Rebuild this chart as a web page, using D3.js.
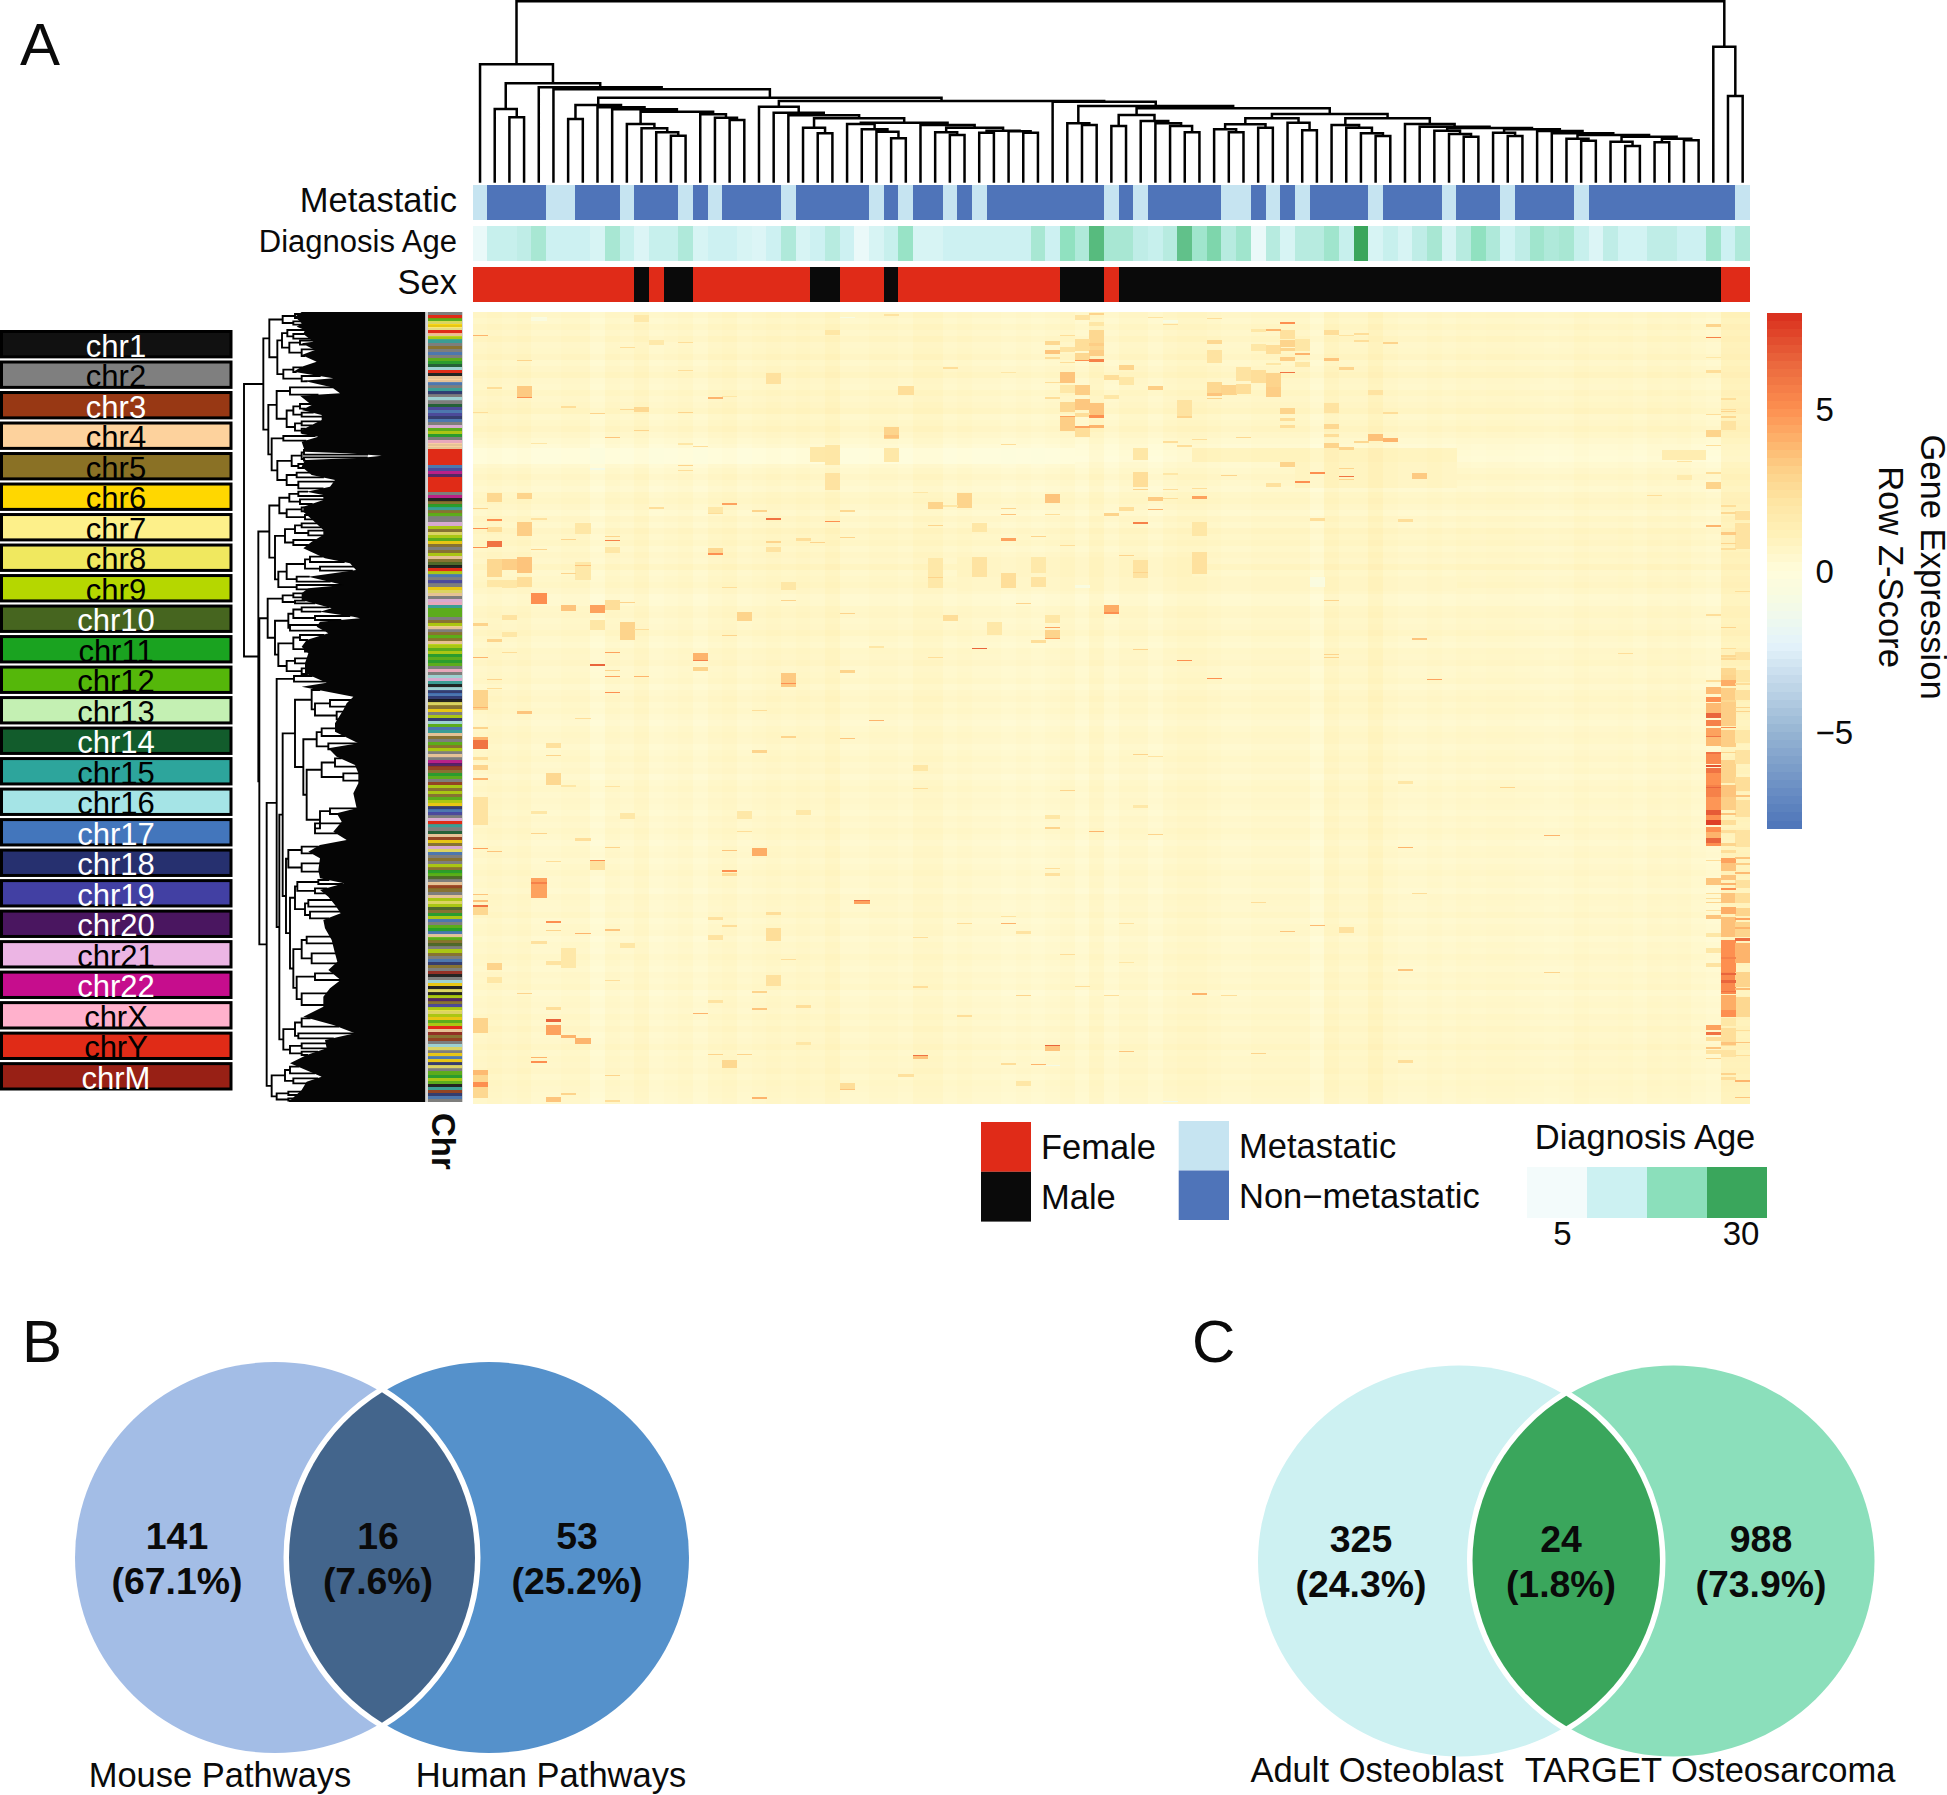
<!DOCTYPE html>
<html><head><meta charset="utf-8">
<script src="https://cdn.jsdelivr.net/npm/d3@7/dist/d3.min.js"></script>
<style>html,body{margin:0;padding:0;background:#fff}svg{display:block}text{font-family:"Liberation Sans",Arial,sans-serif;fill:#0a0a0a}</style>
</head><body><svg id="chart" width="1947" height="1795"></svg>
<script>
// ---------- data ----------
const metastatic=[1,0,0,0,0,1,1,0,0,0,1,0,0,0,1,0,1,0,0,0,0,1,0,0,0,0,0,1,0,1,0,0,1,0,1,0,0,0,0,0,0,0,0,1,0,1,0,0,0,0,0,1,1,0,1,0,1,0,0,0,0,1,0,0,0,0,1,0,0,0,1,0,0,0,0,1,0,0,0,0,0,0,0,0,0,0,1];
const sex=[1,1,1,1,1,1,1,1,1,1,1,0,1,0,0,1,1,1,1,1,1,1,1,0,0,1,1,1,0,1,1,1,1,1,1,1,1,1,1,1,0,0,0,1,0,0,0,0,0,0,0,0,0,0,0,0,0,0,0,0,0,0,0,0,0,0,0,0,0,0,0,0,0,0,0,0,0,0,0,0,0,0,0,0,0,1,1];
const diagnosisAge=[7,14,14,15,18,13,13,13,11,18,14,10,14,14,17,11,13,13,11,10,13,17,11,13,16,13,7,11,14,20,11,11,13,13,13,13,13,13,18,13,21,17,27,18,18,15,14,16,26,19,23,16,19,7,16,11,16,16,19,14,30,11,14,11,15,18,11,16,21,17,12,15,19,17,18,14,10,15,12,12,15,15,13,13,19,13,17];
const ageStops=[5,13.3,21.7,30];
const ageColors=["#f3fbfb","#ccf1f2","#8bdfbb","#3aa65c"];
const metColors=["#4f74b9","#c6e4f1"];
const sexColors=["#0a0a0a","#e02b18"];
const chrNames=["chr1","chr2","chr3","chr4","chr5","chr6","chr7","chr8","chr9","chr10","chr11","chr12","chr13","chr14","chr15","chr16","chr17","chr18","chr19","chr20","chr21","chr22","chrX","chrY","chrM"];
const chrColors=["#111111","#7f7f7f","#983814","#fdd29d","#8a7125","#ffd700","#fdf08a","#f0e85f","#b5d700","#46651f","#1aa320","#55b70a","#c4f0b3","#125c2c","#2da59c","#a5e4e6","#4376bc","#26306f","#4240a3","#4a1660","#ecb5e4","#c60d8d","#ffb1cc","#e02b17","#982015"];
const chrInk=["#fff","#000","#fff","#000","#000","#000","#000","#000","#000","#fff","#000","#000","#000","#fff","#000","#000","#fff","#fff","#fff","#fff","#000","#fff","#000","#000","#fff"];
const chrStripes=[1,23,11,7,5,6,23,3,8,14,1,4,1,16,1,11,10,13,15,23,0,3,3,16,1,14,17,1,15,1,13,18,16,18,17,16,1,20,11,8,10,1,22,3,3,23,23,23,23,23,16,18,21,19,23,23,23,23,23,1,21,0,4,10,14,4,11,1,1,20,8,4,7,8,11,5,4,1,4,8,3,4,9,0,23,8,16,1,18,1,5,7,3,1,20,22,14,11,11,11,1,4,8,3,1,4,11,4,3,8,11,8,10,11,10,11,1,22,1,15,20,14,0,15,17,16,17,0,7,4,5,1,8,17,15,11,16,14,3,4,1,11,4,8,1,3,1,21,19,2,4,10,11,1,2,8,4,8,4,11,8,5,17,16,18,1,20,23,14,1,13,3,2,5,4,20,7,16,1,4,1,8,4,10,11,9,1,3,2,4,1,3,8,7,8,9,4,10,8,16,1,11,10,16,3,11,4,9,1,8,4,1,16,17,4,1,24,0,1,15,5,0,7,0,8,19,4,18,8,7,8,5,11,8,23,3,24,4,2,1,15,7,1,5,16,5,17,7,1,11,10,8,11,0,14,2,17,16,1];

// column dendrogram: [merge depth, left, right]; numbers at the tips are column indices
const colT=[372,63,[380,64,[384,[392,65,[402,66,[410,67,68]]],[388,[398,69,[408,70,71]],[393,72,[400,73,[405,[416,74,[422,75,76]],[410,[425,77,[438,78,79]],[416,[427,80,81],[421,82,83]]]]]]]]]];
const colX=[318,[370,40,[375,41,42]],[325,[345,[378,43,44],[363,45,[370,46,[378,47,[397,48,49]]]]],[342,[355,[373,[388,50,[397,51,52]],[383,53,54]],[368,55,[391,56,57]]],[355,[375,58,[383,59,[400,60,[408,61,62]]]],colT]]]];
const colB1=[320,19,[338,20,[346,21,[355,[383,22,[400,23,24]],[368,[372,25,[388,26,[395,27,[415,28,29]]]],[375,30,[383,[397,31,[405,32,33]],[392,[398,34,35],[394,36,[398,37,38]]]]]]]]]];
const colA1=[315,[357,6,7],[322,8,[328,9,[335,[372,10,[385,11,[397,12,[407,13,14]]]],[343,15,[353,16,[360,17,18]]]]]]];
const colTree=[4,[193,0,[250,[327,1,[352,2,3]],[262,4,[268,5,[293,colA1,[303,colB1,[305,39,colX]]]]]]],[140,84,[288,85,86]]];

// row dendrogram: [merge depth, upper, lower]; numbers at the tips are row positions
const rU=[790,[808,[848,[885,12,24],[880,34,44]],[832,[846,[862,60,[880,72,86]],[868,[900,92,104],[905,118,138]]],[850,[880,172,186],[905,198,214]]]],
  [805,[830,[870,232,254],[860,[880,[900,282,296],[905,308,320]],[885,[905,334,346],[905,356,368]]]],
   [815,[850,378,392],[832,[875,[905,[912,420,434],[912,442,452]],[895,462,474]],[860,[890,488,502],[895,515,535]]]]]];
const rL1=[808,[838,[868,[895,545,558],[900,568,582]],[860,[905,592,604],[915,615,628]]],
  [825,[855,[885,[905,640,652],[925,662,676]],[880,690,705]],[835,[860,[915,[930,740,756],[960,770,782]],[890,800,815]],[890,825,838]]]];
const rL2=[803,[848,[880,850,862],[885,872,880]],[825,[865,[880,[905,892,905],[945,918,930]],[870,945,962]],[835,[880,[900,975,990],[915,1010,1025]],[860,[885,1045,1060],[905,1075,1092]]]]];
const rP=[848,[885,[935,1140,[945,[990,1170,1190],[1010,1205,1228]]],[910,[950,[965,1255,1278],[985,1300,1318]],[920,[965,[1005,1345,1370],[1030,1390,1412]],[960,[990,1495,1512],[945,1540,1570]]]]],
  [858,[865,[905,1610,1630],[905,1660,1685]],[870,[885,[892,[955,1710,1722],[945,1735,1750]],[915,[925,1770,1790],[930,1805,1825]]],[880,[905,[920,1880,1900],[935,1930,1960]],[890,[945,1990,2010],[905,2050,2085]]]]]];
const rQ=[850,[885,[905,2125,2150],[895,2170,2185]],[870,[905,2200,2215],[905,2225,2235]]];
const rN=[815,[855,[870,2270,2290],[880,2305,2320]],[830,[865,2345,2355],[865,2365,2372]]];
const rowTree=[732,rU,[775,rL1,[778,rL2,[800,[830,[882,1098,1115],[838,rP,rQ]],rN]]]];
// outline of the dense leaves of the row dendrogram
const envRow=[6,20,40,50,60,72,95,100,120,135,155,170,185,205,212,232,250,257,285,300,315,330,345,360,372,380,395,425,430,437,443,450,470,495,510,530,545,555,570,590,605,632,660,675,695,715,745,760,780,790,800,825,835,850,870,885,895,905,920,925,935,950,970,990,1010,1030,1060,1090,1118,1130,1160,1180,1200,1240,1265,1300,1315,1340,1365,1390,1420,1450,1495,1510,1535,1565,1590,1605,1625,1645,1680,1705,1720,1740,1760,1785,1810,1830,1855,1890,1930,1955,1980,2010,2035,2060,2090,2120,2145,2170,2190,2215,2235,2260,2300,2315,2340,2376];
const envDepth=[905,885,905,890,915,910,940,905,945,905,950,905,880,1000,910,995,1020,900,935,905,965,965,935,905,905,955,905,915,1040,1145,1090,915,905,935,1005,990,920,970,970,910,910,940,970,970,935,910,975,1050,1068,1000,925,1030,925,905,905,960,995,960,1060,1080,960,950,985,920,905,925,915,915,980,905,1060,1040,1030,1005,1005,1075,985,1010,1065,1075,1075,1060,1070,1010,1025,1000,1040,960,925,960,955,960,1032,960,985,1005,1022,970,975,995,1005,1012,985,1022,990,970,970,910,1000,1065,975,980,920,870,965,920,905,865];

// heat map: tint per column, tint per band of six rows, and the stand-out stretches [column,row,length,z]
const colBase=[.5,.6,.5,.6,.4,.4,.5,.5,.2,.5,.4,.6,.3,.4,.5,.3,.5,.6,.4,.5,.6,.5,.6,.5,.7,.4,.4,.5,.5,.4,.6,.6,.4,.5,.4,.4,.3,.4,.3,.4,.5,.3,.6,.3,.5,.5,.3,.5,.6,.6,.5,.4,.4,.5,.5,.5,.5,.2,.7,.5,.5,.8,.5,.4,.4,.5,.4,.5,.45,.5,.5,.45,.4,.35,.4,.55,.45,.45,.5,.4,.55,.5,.55,.4,.3,.9,.9];
const rowTint=[.2,.05,.25,.1,.3,.1,.15,.3,.05,.2,.35,.1,.05,.25,.1,.2,.35,.05,.15,.3,.1,-.05,-.2,-.25,-.3,-.1,.05,.2,.05,-.1,.15,.25,.1,-.05,.2,.05,.3,.15,.25,.05,.2,.1,.35,.05,.15,.25,.1,-.1,-.05,.15,.2,.05,.1,.25,.05,-.05,.15,.1,.2,0,.05,.15,-.05,.1,.2,.05,.15,0,-.1,.05,.15,.1,-.05,.05,.15,0,.1,-.1,.05,.15,0,.1,.05,-.05,.1,0,.15,.05,-.1,.05,.1,-.05,.05,.15,0,.05,-.1,.1,.05,0,.15,-.05,.05,.1,-.1,.05,0,.15,.05,-.05,.1,.05,.15,-.1,.05,.1,0,.15,.05,.2,.05,.1,.25,.05,.15,.1,.2,.05,.15,.1,.05,0];
const wideBands=[[0,40,136,16,-.08],[49,66,136,14,.85],[56,66,150,26,.7],[33,48,245,30,.7],[33,66,265,14,.6]];
const heatSpots=[
[0,23,1,4],[0,100,1,2.5],[0,196,1,3],[0,216,1,5],[0,235,1,5],[0,311,3,3],[0,345,1,4],[0,378,20,3],[0,395,1,4],
[1,75,2,2.5],[1,181,9,2.8],[1,207,2,5],[1,215,5,2.5],[1,229,6,6],[1,247,18,2.8],[1,268,7,2],[1,327,3,3],[1,367,1,3],[1,376,1,2.5],
[2,247,11,3.2],[2,268,8,2],[2,303,5,2.2],[2,320,5,2],[2,340,1,2.5],
[3,48,1,3],[3,74,11,3.3],[3,85,1,5],[3,181,6,3],[3,210,14,3.2],[3,245,16,3.5],[3,265,10,2.5],
[4,206,2,2.3],[4,281,11,5],[4,131,1,2],[4,237,1,3],[4,5,4,-.5],
[6,94,2,2.5],[6,261,1,3],[6,293,6,3.5],[6,227,1,3],
[7,253,1,3.5],[7,250,18,1.9],[7,211,11,2],
[8,101,1,3],[8,293,8,4.5],[8,352,2,6.5],[8,308,10,2],[8,156,2,-1],
[9,125,1,3.5],[9,228,1,5.5],[9,224,1,3],[9,288,10,2.5],[9,340,1,4.5],[9,358,1,3],[9,364,1,4.5],[9,380,1,5],[9,235,6,2],
[10,97,1,2.8],[10,35,1,2.5],[10,290,1,3],[10,310,18,3],
[11,3,7,1.8],[11,95,5,2.8],[11,118,1,3],[11,364,1,4],[11,317,1,2.5],
[12,28,5,1.8],[12,195,2,2.5],
[14,100,1,3],[14,30,1,2.5],[14,58,1,2.5],[14,153,1,3],[14,158,1,2.5],[14,131,2,2],
[15,341,7,4],[15,348,1,5.5],[15,355,4,3],[15,134,1,2.5],
[16,85,2,4],[16,241,2,5],[16,236,5,2.8],[16,201,1,2.5],[16,195,6,1.9],
[17,191,2,4.5],[17,323,1,3],[17,84,1,2],[17,275,1,2.5],
[18,300,9,3],[19,198,2,3],
[20,61,11,2.3],[20,206,2,6],[20,229,2,3],[20,235,5,2.2],
[21,361,14,3.3],[21,371,1,5],[21,288,1,3],[21,270,8,2],
[22,226,3,2.5],[23,230,1,3],[23,135,15,1.9],
[24,18,5,2],[24,133,20,2],[24,161,17,2.2],[24,209,1,5],
[25,198,2,2.8],[25,225,1,3],[25,301,1,3],[25,358,3,3],[25,5,1,-.8],
[27,334,2,2],[28,2,2,2.2],[28,115,12,3],[28,123,3,3.5],[28,136,14,1.9],
[29,74,9,2.5],[30,180,1,2],
[31,190,7,3],[31,213,1,3],[31,246,30,1.9],[31,265,1,3],[31,345,1,2.5],
[32,55,2,2.5],[32,193,2,2],[32,303,6,2.5],[33,181,15,3],
[36,60,1,2],[36,132,1,2.5],[36,196,1,3],[36,202,1,3.5],[36,226,3,4.5],[36,261,15,2.5],
[35,310,13,1.9],[34,211,9,2],[34,245,20,2.2],[34,336,1,6.5],
[37,291,1,3],[38,224,1,3],[38,265,10,2.2],[38,328,3,2.5],[38,245,16,1.8],
[39,29,4,2.8],[39,38,4,3.5],[39,45,2,2.5],[39,70,1,2.5],[39,85,2,2.5],[39,182,9,3.5],[39,202,1,2.5],[39,303,8,2],[39,315,1,4.5],[39,318,8,3],[39,326,1,4.5],
[40,23,1,2.5],[40,35,5,2.2],[40,50,1,2.5],[40,60,11,3.5],[40,73,8,1.9],[40,90,10,2.8],[40,104,1,4.5],[40,105,14,3.2],[40,233,1,2.5],
[41,3,5,2.2],[41,27,12,2.5],[41,41,7,2.8],[41,48,1,5],[41,73,10,3.2],[41,87,11,3.4],[41,101,4,2.5],[41,114,2,4.5],[41,116,9,2.5],[41,273,3,-.6],
[42,1,2,3],[42,10,4,2],[42,18,20,2.8],[42,38,6,3.2],[42,47,3,5.5],[42,91,12,3.5],[42,103,3,5],[42,113,3,4],[42,31,3,3.2],
[43,63,5,2.5],[43,83,4,2],[43,201,3,3],[43,293,9,4.2],[43,300,2,5],
[44,53,5,3],[44,65,8,2],[44,195,4,2.5],[44,243,1,3],
[45,136,12,2],[45,160,15,2.5],[45,177,1,3],[45,210,2,5.5],[45,248,18,2.2],[45,260,1,3],[45,337,1,3],
[46,5,1,2.2],[46,74,4,3.2],[46,185,4,3.3],[46,197,1,4],
[47,12,1,2.5],[47,129,2,2.5],[47,161,2,2],[47,177,1,2.5],[47,186,1,2.5],[47,8,3,-.7],
[48,88,18,2.2],[48,104,2,3],[48,133,2,2.5],[48,348,1,5],
[49,176,1,2.5],[49,184,3,4.5],[49,127,1,2.5],[49,210,14,2],[49,240,22,2.3],
[50,6,1,2.5],[50,28,4,2.8],[50,38,13,2.2],[50,70,13,2.8],[50,81,3,3.5],[50,86,1,3],[50,366,1,5],
[51,73,10,3],[51,163,1,3],[52,55,14,2.2],[52,72,10,2.5],[52,125,1,2.8],
[53,17,3,2],[53,32,7,2],[53,58,13,2.5],
[54,17,2,4],[54,33,9,2.5],[54,51,2,2],[54,61,14,3],[54,75,10,3.2],[54,171,4,2.3],
[55,10,2,5],[55,18,9,2.3],[55,28,7,3],[55,36,3,3],[55,45,4,3.2],[55,60,1,6],[55,96,6,3],[55,106,3,2.5],[55,113,3,2.5],[55,150,5,3],
[56,27,12,2],[56,41,2,4],[56,50,5,2],[56,169,2,5],
[57,160,2,5],[57,206,3,2.5],[57,265,10,-.5],
[58,18,5,2.5],[58,46,3,3.5],[58,91,10,2.2],[58,112,5,2.8],[58,122,3,2.5],[58,131,5,3],[58,342,1,3],[58,345,1,3],[58,288,1,3],
[59,23,1,2.2],[59,55,3,3],[59,135,3,3],[59,156,1,3],[59,164,1,6],[59,167,1,3],
[60,21,2,2.5],[60,28,2,2.5],[60,129,2,2.8],
[61,122,7,3.6],[61,78,5,2.2],[62,30,2,3],[62,126,4,4],[62,100,2,2.5],[63,207,3,2.5],
[64,161,6,3.3],[64,326,2,3.5],[65,367,1,4.5],
// lower left
[0,393,3,3],[0,415,2,3],[0,425,3,4],[0,428,9,6],[0,445,3,2.5],[0,453,5,3],[0,466,2,4],[0,485,28,2.2],[0,536,1,4.5],[0,582,1,3.5],[0,588,2,3.5],[0,593,2,6],[0,595,8,2.8],[0,706,15,3],[0,758,5,3.8],[0,770,5,5],[0,763,23,2.8],
[1,539,1,3.5],[1,651,7,3],[1,665,6,2],[3,399,3,3.5],[3,681,1,3],
[4,521,1,3],[4,566,20,4.5],[4,570,2,5.5],[4,499,3,2],[4,745,1,4],[4,749,2,5],[4,629,3,2.3],
[5,431,5,2.3],[5,443,1,3],[5,461,12,2.8],[5,549,1,2.5],[5,609,2,5],[5,618,1,3],[5,649,4,2.2],[5,695,3,2.5],[5,707,3,6.5],[5,713,10,4.5],[5,785,5,3.5],
[6,473,2,2],[6,723,3,4],[6,636,20,1.9],[6,781,2,3],
[7,406,1,2.5],[7,526,3,2.5],[7,621,1,4],[7,726,6,4],
[8,548,1,5],[8,548,10,2.3],
[9,474,1,2.2],[9,535,1,3],[9,617,2,3.5],[9,668,1,2.5],[9,763,1,3],[9,788,2,2.5],
[10,501,6,1.9],[10,631,5,2],[15,701,1,4],
[16,742,1,3],[16,605,3,2.3],[16,623,5,2.2],[16,688,3,2.2],
[17,538,1,3.5],[17,558,2,5],[17,561,3,2.5],[17,613,2,2.5],[17,748,8,2.8],
[18,519,1,2.5],[18,499,8,1.9],[18,742,1,3],
[19,398,1,2.5],[19,438,3,3],[19,536,8,4.2],[19,679,2,3],[19,696,2,3.5],[19,785,2,4],
[20,600,3,2.5],[20,616,13,2.5],[20,663,11,2.3],[21,424,2,3],[21,647,1,2.5],
[22,498,5,1.9],[22,693,3,2.5],[22,730,3,2],
[25,426,1,3.5],[25,771,7,2.5],[25,777,1,3.5],[26,588,4,4.5],[26,588,1,6],[27,408,1,4],[29,762,3,2.3],
[30,453,6,2],[30,476,1,2.5],[30,625,1,2.5],[30,674,2,2.5],[30,743,1,6],[30,743,4,3.5],
// lower middle
[33,611,1,2.5],[33,703,2,2.5],[36,611,1,4],[36,604,1,2.2],[36,751,2,2.5],[37,683,1,3],[37,619,3,2.2],[37,769,5,2],[38,752,1,4],
[39,503,4,2],[39,515,2,3],[39,556,1,2.5],[39,561,3,2.3],[39,733,1,6.5],[39,733,6,3.5],[39,753,1,-1],
[40,478,1,3],[40,642,1,2.5],[41,674,1,2.5],[42,519,1,4],[43,683,1,2.5],[44,739,1,3.5],[44,611,1,2.2],[44,650,1,2],
[45,442,1,3],[45,493,3,1.9],[46,444,1,2.2],[46,522,1,3],[47,789,1,-1.5],[49,681,2,4],[51,683,1,2.5],[53,590,1,2.5],[53,741,1,3],[55,619,1,3.5],[57,613,1,3.8],[59,615,6,2.3],
[63,535,1,4],[63,657,2,3.5],[63,748,3,2.5],[63,469,3,2],[64,581,1,2.5],
// right side
[70,475,1,3],[73,523,1,4],[73,660,1,3],[78,341,1,2.5],[80,183,1,2.5],[81,138,10,1.5],[82,138,10,1.5],[83,138,10,1.5],[82,149,1,2.2],[82,163,5,1.6],
[84,12,3,3],[84,25,1,5.5],[84,45,1,2],[84,58,3,2.5],[84,102,1,2.5],[84,118,7,3],[84,133,1,2.5],[84,160,2,2.5],[84,170,7,3],[84,213,2,4],[84,302,2,2.5],
[84,368,2,2.5],[84,375,7,3.8],[84,385,5,5],[84,391,10,3.8],[84,401,5,6.5],[84,408,6,5.5],[84,416,8,4.5],[84,424,1,6],[84,425,9,3.8],[84,440,2,6],[84,441,11,5.2],[84,453,2,7],[84,456,5,6],[84,461,12,5],[84,473,12,5.5],[84,475,1,6.5],[84,485,13,4.8],[84,498,5,6.8],[84,503,5,5],[84,508,5,7.5],[84,515,5,5],[84,520,6,4],[84,526,5,6.5],[84,531,3,5],[84,548,1,2.5],[84,566,7,3.5],[84,581,1,2.5],[84,586,1,2.5],[84,590,1,3],[84,598,1,2.2],[84,603,4,3.5],[84,621,4,2],[84,636,5,2],[84,651,4,2.2],[84,713,5,4.5],[84,720,3,6],[84,725,4,2.5],[84,735,2,3.5],[84,746,1,3],[84,738,4,2.2],
[85,86,2,2.5],[85,97,1,2.5],[85,99,1,3],[85,104,2,2.8],[85,109,9,2.2],[85,193,2,2.5],[85,200,2,2.8],[85,220,3,3.3],[85,231,1,3],[85,236,2,2.5],[85,315,1,3],[85,336,1,2.5],[85,345,1,2.2],[85,359,7,3],[85,368,5,4.2],
[85,343,5,2.8],[85,356,7,2.8],[85,365,3,3],[85,370,4,4.2],[85,376,38,3.2],[85,388,2,2.8],[85,415,1,5],[85,418,17,3.2],[85,440,1,3],[85,448,23,3],[85,473,12,3.5],[85,485,13,3.2],[85,501,2,3.5],[85,508,5,2.5],[85,518,3,2.5],[85,531,3,3],[85,538,3,2.5],[85,546,5,4.5],[85,551,8,3.5],[85,563,5,3.5],[85,571,2,4],[85,576,2,5],[85,581,10,3.5],[85,595,7,4.2],[85,605,20,3.6],[85,628,32,5],[85,645,2,5.5],[85,661,2,6.5],[85,668,3,6.5],[85,660,22,5.2],[85,679,1,6],[85,683,15,4.2],[85,698,7,5],[85,706,8,2],[85,716,18,2.5],[85,730,3,3.5],[85,738,7,2.2],[85,761,2,3],[85,765,3,2.5],
[86,199,9,2.3],[86,211,26,2.2],[86,279,1,2.5],[86,340,2,2.2],[86,341,7,2.2],[86,358,12,2],[86,371,2,2.5],[86,378,10,2.3],[86,395,1,3],[86,399,1,3],[86,418,13,2],[86,438,14,2.2],[86,465,14,2.5],[86,483,2,3.5],[86,488,17,2.3],[86,518,17,2.2],[86,545,2,3.5],[86,551,2,3.2],[86,560,2,3.8],[86,568,8,2.3],[86,581,10,2.5],[86,596,8,3],[86,606,2,4.5],[86,615,2,4],[86,610,15,3],[86,626,3,6.2],[86,631,20,4],[86,660,15,3],[86,676,2,3.8],[86,685,20,2.8],[86,718,1,2.5],[86,730,1,3.5],[86,743,1,2.5],[86,768,2,4],[86,785,1,3.5]
];
const zTicks=[5,0,-5];
const zStops=[-8,-5,-2.3,-1.5,-.7,0,1,2,3,4,5,6.5,8];
const zColors=["#4d74b9","#96b5d3","#e4f3fb","#eef9ee","#f8fbe0","#fffcdb","#fff2bb","#fee7a6","#fdd48c","#fdb46c","#fd8f50","#e9653c","#d92d1c"];
const vennB={sizes:["141","16","53"],pct:["(67.1%)","(7.6%)","(25.2%)"],names:["Mouse Pathways","Human Pathways"],fills:["#a3bde6","#5591cb","#43658c"]};
const vennC={sizes:["325","24","988"],pct:["(24.3%)","(1.8%)","(73.9%)"],names:["Adult Osteoblast","TARGET Osteosarcoma"],fills:["#cdf1f2","#8bdfbb","#3aa65c"]};

// ---------- drawing ----------
const svg=d3.select("#chart");
const FONT=34.5;
const colScale=d3.scaleBand().domain(d3.range(87)).range([472.7,1750]);
const ageColor=d3.scaleLinear().domain(ageStops).range(ageColors);
const zColor=d3.scaleLinear().domain(zStops).range(zColors);

// annotation tracks
function track(vals,y0,y1,color){
  svg.append("g").attr("shape-rendering","crispEdges").selectAll("rect").data(vals).join("rect")
   .attr("x",(d,i)=>colScale(i)).attr("width",colScale.bandwidth()+.4).attr("y",y0).attr("height",y1-y0).attr("fill",color);
}
track(metastatic,185,219.5,d=>metColors[d]);
track(diagnosisAge,226,261,d=>ageColor(d));
track(sex,267,302,d=>sexColors[d]);
const rowLabel=(t,y,size)=>svg.append("text").attr("x",457).attr("y",y).attr("text-anchor","end").attr("font-size",size).text(t);
rowLabel("Metastatic",212,FONT);rowLabel("Diagnosis Age",252,31);rowLabel("Sex",294,FONT);

// column dendrogram
const colDepth=d3.scaleLinear().domain([0,548]).range([0,182.7]);
const colRoot=d3.hierarchy(colTree,d=>Array.isArray(d)?d.slice(1):null);
colRoot.eachAfter(n=>{
  if(n.children){n.px=d3.mean(n.children,c=>c.px);n.py=colDepth(n.data[0]);}
  else{n.px=colScale(n.data)+colScale.bandwidth()/2;n.py=colDepth(548);}
});
const cp=d3.path();
colRoot.each(n=>{if(n.children){const[a,b]=n.children;cp.moveTo(a.px,a.py);cp.lineTo(a.px,n.py);cp.lineTo(b.px,n.py);cp.lineTo(b.px,b.py);}});
svg.append("path").attr("d",cp.toString()).attr("fill","none").attr("stroke","#000").attr("stroke-width",2.5);

// heat map
const rowScale=d3.scaleLinear().domain([0,790]).range([312,1102]);
const heat=svg.append("g").attr("shape-rendering","crispEdges");
const cells=[];rowTint.forEach((t,b)=>colBase.forEach((v,c)=>cells.push({c,r:b*6,l:6,v:v+t})));
heat.selectAll("rect.b").data(cells).join("rect").attr("class","b")
 .attr("x",d=>colScale(d.c)).attr("width",colScale.bandwidth()+.4).attr("y",d=>rowScale(d.r)).attr("height",d=>rowScale(d.r+d.l)-rowScale(d.r)).attr("fill",d=>zColor(d.v));
const spots=[];
wideBands.forEach(([c0,c1,r,l,v])=>{for(let c=c0;c<=c1;c++)spots.push([c,r,l,v+colBase[c]-.4]);});
const sortedSpots=spots.concat([...heatSpots].sort((a,b)=>b[2]-a[2]));
heat.selectAll("rect.s").data(sortedSpots).join("rect").attr("class","s")
 .attr("x",d=>colScale(d[0])).attr("width",colScale.bandwidth()+.4).attr("y",d=>rowScale(d[1])).attr("height",d=>rowScale(d[1]+d[2])-rowScale(d[1])).attr("fill",d=>zColor(d[3]));

// row dendrogram
const rowPos=d3.scaleLinear().domain([6,2376]).range([312,1102]);
const rowDepth=d3.scaleLinear().domain([0,1275]).range([0,425]);
const envAt=d3.scaleLinear().domain(envRow).range(envDepth);
const rowRoot=d3.hierarchy(rowTree,d=>Array.isArray(d)?d.slice(1):null);
rowRoot.eachAfter(n=>{
  if(n.children){n.py=d3.mean(n.children,c=>c.py);n.px=rowDepth(n.data[0]);}
  else{n.py=rowPos(n.data);n.px=rowDepth(envAt(n.data)+4);}
});
const rp=d3.path();
rowRoot.each(n=>{if(n.children){const[a,b]=n.children;rp.moveTo(a.px,a.py);rp.lineTo(n.px,a.py);rp.lineTo(n.px,b.py);rp.lineTo(b.px,b.py);}});
svg.append("path").attr("d",rp.toString()).attr("fill","none").attr("stroke","#000").attr("stroke-width",1.9);
svg.append("path").attr("fill","#050505").attr("d",d3.area().y(d=>rowPos(d)).x0(d=>rowDepth(envAt(d))).x1(rowDepth(1275))(envRow));
svg.append("rect").attr("x",rowDepth(1275)).attr("y",312).attr("width",1.6).attr("height",790).attr("fill","#b9b9b9");

// chromosome strip (thin stripes blend with their neighbours in the reference)
const stripe=d3.scaleBand().domain(d3.range(chrStripes.length)).range([312,1102]);
svg.append("rect").attr("x",427.7).attr("y",312).attr("width",34.6).attr("height",790).attr("fill","#7a7a70");
svg.append("g").attr("shape-rendering","crispEdges").selectAll("rect").data(chrStripes).join("rect")
 .attr("x",427.7).attr("width",34.6).attr("y",(d,i)=>stripe(i)).attr("height",stripe.bandwidth()+.4).attr("fill",d=>chrColors[d]).attr("fill-opacity",(d)=>d===23?1:.82);
svg.append("text").attr("transform","translate(431.5,1113) rotate(90)").attr("font-size",33).attr("font-weight","bold").text("Chr");

// chromosome key
const keyY=d3.scaleBand().domain(chrNames).range([330,1090.5]).paddingInner(.07);
const key=svg.append("g").selectAll("g").data(chrNames).join("g").attr("transform",d=>`translate(0,${keyY(d)})`);
key.append("rect").attr("x",1.5).attr("y",1.5).attr("width",229.5).attr("height",keyY.bandwidth()-3).attr("fill",(d,i)=>chrColors[i]).attr("stroke","#000").attr("stroke-width",3);
key.append("text").attr("x",116).attr("y",keyY.bandwidth()-1.5).attr("text-anchor","middle").attr("font-size",31).style("fill",(d,i)=>chrInk[i]).text(d=>d);

// colour bar
const zY=d3.scaleLinear().domain([8,-8]).range([312.5,828.6]);
const zBar=d3.range(8,-8,-.25);
svg.append("g").attr("shape-rendering","crispEdges").selectAll("rect").data(zBar).join("rect")
 .attr("x",1767).attr("width",34.7).attr("y",d=>zY(d)).attr("height",zY(0)-zY(.25)+.5).attr("fill",d=>zColor(d-.125));
svg.append("g").selectAll("text").data(zTicks).join("text").attr("x",1815.5).attr("y",d=>zY(d)+12).attr("font-size",33).text(d=>d<0?"\u2212"+(-d):d);
svg.append("text").attr("transform","translate(1920.5,567) rotate(90)").attr("text-anchor","middle").attr("font-size",34.6).text("Gene Expression");
svg.append("text").attr("transform","translate(1879,567) rotate(90)").attr("text-anchor","middle").attr("font-size",34.6).text("Row Z-Score");

// legends
function swatches(x,w,y0,h,colors,labels,tx,base){
  colors.forEach((c,i)=>{
    svg.append("rect").attr("x",x).attr("y",y0+i*h).attr("width",w).attr("height",h).attr("fill",c);
    svg.append("text").attr("x",tx).attr("y",base+i*50).attr("font-size",FONT).text(labels[i]);
  });
}
swatches(981,50,1122,49.8,[sexColors[1],sexColors[0]],["Female","Male"],1041,1159);
swatches(1178.7,50.3,1121,49.5,[metColors[1],metColors[0]],["Metastatic","Non\u2212metastatic"],1239,1157.7);
svg.append("text").attr("x",1645).attr("y",1149).attr("text-anchor","middle").attr("font-size",FONT).text("Diagnosis Age");
svg.append("g").selectAll("rect").data(ageColors).join("rect").attr("x",(d,i)=>1527+i*60).attr("y",1167).attr("width",60).attr("height",51).attr("fill",d=>d);
[["5",1562.5],["30",1741]].forEach(([t,x])=>svg.append("text").attr("x",x).attr("y",1245).attr("text-anchor","middle").attr("font-size",33).text(t));

// panel letters
[["A",20,65],["B",22,1362],["C",1192,1362]].forEach(([t,x,y])=>svg.append("text").attr("x",x).attr("y",y).attr("font-size",60).text(t));

// venn diagrams
function venn(v,cx0,cx1,cy,rx,ry,textX,base,labelX,labelY){
  const cut=(cx0+cx1)/2, h=ry*Math.sqrt(1-Math.pow((cut-cx0)/rx,2));
  svg.append("ellipse").attr("cx",cx0).attr("cy",cy).attr("rx",rx).attr("ry",ry).attr("fill",v.fills[0]);
  svg.append("ellipse").attr("cx",cx1).attr("cy",cy).attr("rx",rx).attr("ry",ry).attr("fill",v.fills[1]);
  svg.append("path").attr("d",`M${cut},${cy-h}A${rx},${ry} 0 0 1 ${cut},${cy+h}A${rx},${ry} 0 0 1 ${cut},${cy-h}Z`)
   .attr("fill",v.fills[2]).attr("stroke","#fff").attr("stroke-width",11).style("paint-order","stroke");
  textX.forEach((x,i)=>{
    svg.append("text").attr("x",x).attr("y",base).attr("text-anchor","middle").attr("font-size",37.4).attr("font-weight","bold").text(v.sizes[i]);
    svg.append("text").attr("x",x).attr("y",base+45).attr("text-anchor","middle").attr("font-size",37.4).attr("font-weight","bold").text(v.pct[i]);
  });
  labelX.forEach((x,i)=>svg.append("text").attr("x",x).attr("y",labelY).attr("text-anchor","middle").attr("font-size",FONT).text(v.names[i]));
}
venn(vennB,275,489,1557.5,200,195.5,[177,378,577],1549,[220,551],1786.5);
venn(vennC,1459,1673.5,1561,201,195.5,[1361,1561,1761],1552,[1377,1710],1782);
</script></body></html>
